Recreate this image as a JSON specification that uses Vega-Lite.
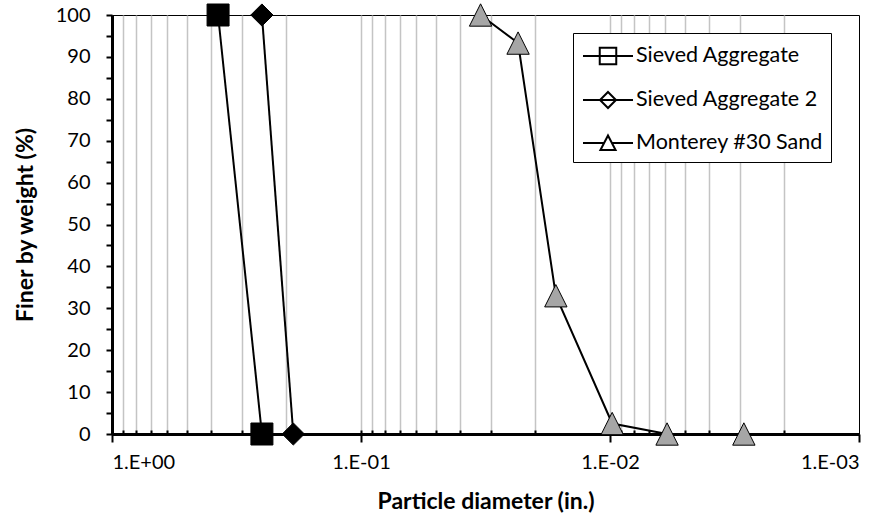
{
  "$schema": "https://vega.github.io/schema/vega-lite/v6.json",
  "width": 747,
  "height": 419,
  "autosize": "none",
  "padding": {"left": 112, "top": 15, "right": 35, "bottom": 86},
  "background": "white",
  "config": {
    "font": "Lato",
    "view": {"stroke": "black", "strokeWidth": 1},
    "axis": {"domainColor": "black", "tickColor": "black", "labelColor": "black", "titleColor": "black"},
    "legend": {"labelLimit": 400}
  },
  "data": {
    "values": [
      {"series": "Sieved Aggregate", "d": 0.375, "p": 100},
      {"series": "Sieved Aggregate", "d": 0.25, "p": 0},
      {"series": "Sieved Aggregate 2", "d": 0.25, "p": 100},
      {"series": "Sieved Aggregate 2", "d": 0.187, "p": 0},
      {"series": "Monterey #30 Sand", "d": 0.0331, "p": 100},
      {"series": "Monterey #30 Sand", "d": 0.0234, "p": 93.3},
      {"series": "Monterey #30 Sand", "d": 0.0165, "p": 33},
      {"series": "Monterey #30 Sand", "d": 0.0098, "p": 2.5},
      {"series": "Monterey #30 Sand", "d": 0.0059, "p": 0},
      {"series": "Monterey #30 Sand", "d": 0.0029, "p": 0}
    ]
  },
  "encoding": {
    "y": {
      "field": "p", "type": "quantitative",
      "scale": {"domain": [0, 100], "nice": false},
      "axis": {
        "title": "Finer by weight (%)",
        "titleFontSize": 23, "titleFontWeight": "bold", "titlePadding": 18,
        "values": [0,5,10,15,20,25,30,35,40,45,50,55,60,65,70,75,80,85,90,95,100],
        "labelExpr": "datum.value % 10 === 0 ? datum.label : ''",
        "labelFontSize": 20, "labelPadding": 16,
        "tickSize": 6, "tickWidth": 2, "domainWidth": 3, "grid": false
      }
    }
  },
  "layer": [
    {
      "mark": {"type": "line", "color": "black", "strokeWidth": 2},
      "encoding": {
        "x": {
          "field": "d", "type": "quantitative",
          "scale": {"type": "log", "domain": [0.001, 1], "reverse": true, "nice": false},
          "axis": {
            "orient": "bottom",
            "title": "Particle diameter (in.)",
            "titleFontSize": 23, "titleFontWeight": "bold", "titlePadding": 18,
            "values": [1, 0.1, 0.01, 0.001],
            "labelExpr": "datum.value >= 1 ? '1.E+00' : '1.E-0' + round(-log(datum.value)/LN10)",
            "labelFontSize": 20, "labelPadding": 10,
            "tickSize": 8, "tickWidth": 2, "domainWidth": 3, "grid": false
          }
        },
        "detail": {"field": "series"}
      }
    },
    {
      "mark": {"type": "point", "filled": false, "stroke": "black", "strokeWidth": 2, "opacity": 0},
      "encoding": {
        "x": {
          "field": "d", "type": "quantitative",
          "scale": {"type": "log", "domain": [0.001, 1], "reverse": true, "nice": false},
          "axis": null
        },
        "shape": {
          "field": "series", "type": "nominal",
          "scale": {"domain": ["Sieved Aggregate", "Sieved Aggregate 2", "Monterey #30 Sand"],
                    "range": ["M-1.786,0H1.786M-0.59,-0.59H0.59V0.59H-0.59Z", "M-1.786,0H1.786M0,-0.57L0.57,0L0,0.57L-0.57,0Z", "M-1.786,0H-0.28M0.28,0H1.786M0,-0.54L0.54,0.5H-0.54Z"]},
          "legend": {
            "title": null, "orient": "none", "legendX": 461, "legendY": 18,
            "padding": 8, "strokeColor": "black", "fillColor": "white",
            "labelFontSize": 21.5, "labelOffset": 13, "symbolOffset": 12, "rowPadding": 16, "labelLimit": 400,
            "symbolSize": 784, "symbolStrokeColor": "black", "symbolStrokeWidth": 2, "symbolOpacity": 1,
            "encode": {
              "symbols": {
                "fill": [{"test": "datum.value === 'Monterey #30 Sand'", "value": "#a6a6a6"}, {"value": "black"}],
                "fillOpacity": {"value": 1},
                "stroke": {"value": "black"},
                "strokeWidth": {"value": 2},
                "opacity": {"value": 1}
              }
            }
          }
        }
      }
    },
    {
      "mark": {"type": "point", "filled": false, "stroke": "black", "strokeWidth": 1, "opacity": 1},
      "encoding": {
        "x": {
          "field": "d", "type": "quantitative",
          "scale": {"type": "log", "domain": [0.001, 1], "reverse": true, "nice": false},
          "axis": {
            "orient": "bottom", "title": null, "labels": false, "domain": false,
            "values": [0.9,0.8,0.7,0.6,0.5,0.4,0.3,0.2,0.1,0.09,0.08,0.07,0.06,0.05,0.04,0.03,0.02,0.01,0.009,0.008,0.007,0.006,0.005,0.004,0.003,0.002],
            "tickSize": -4, "tickWidth": 2,
            "grid": true, "gridColor": "#c4c4c4", "gridWidth": 1.5
          }
        },
        "shape": {
          "field": "series", "type": "nominal",
          "scale": {"domain": ["Sieved Aggregate", "Sieved Aggregate 2", "Monterey #30 Sand"], "range": ["square", "diamond", "M0,-1L1,1L-1,1Z"]},
          "legend": null
        },
        "fill": {
          "field": "series", "type": "nominal",
          "scale": {"domain": ["Sieved Aggregate", "Sieved Aggregate 2", "Monterey #30 Sand"], "range": ["black", "black", "#a6a6a6"]},
          "legend": null
        },
        "size": {
          "field": "series", "type": "nominal",
          "scale": {"domain": ["Sieved Aggregate", "Sieved Aggregate 2", "Monterey #30 Sand"], "range": [484, 500, 441]},
          "legend": null
        }
      }
    }
  ],
  "resolve": {
    "axis": {"x": "independent"},
    "scale": {"shape": "independent", "fill": "independent", "size": "independent"},
    "legend": {"shape": "independent"}
  }
}
